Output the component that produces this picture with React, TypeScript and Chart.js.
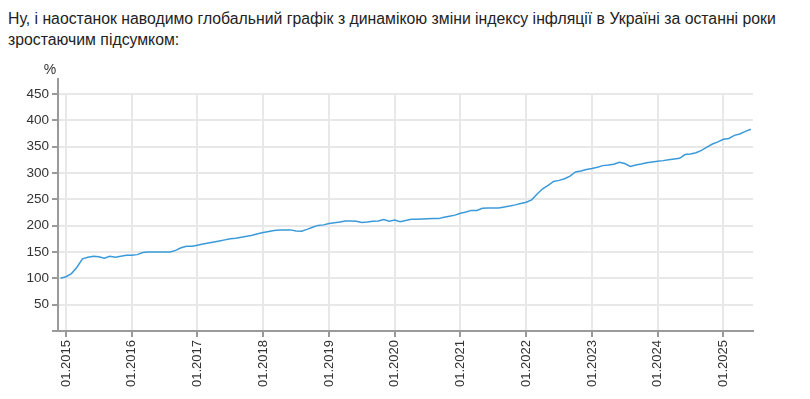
import React, { useEffect, useRef } from 'react';
import { Chart, registerables } from 'chart.js';

Chart.register(...registerables);

const TITLE =
  'Ну, і наостанок наводимо глобальний графік з динамікою зміни індексу інфляції в Україні за останні роки зростаючим підсумком:';

const UNIT_LABEL = '%';

// Monthly categories: 12.2014 .. 06.2025
const monthLabels: string[] = [];
for (let y = 2014; y <= 2025; y++) {
  for (let m = 1; m <= 12; m++) {
    if (y === 2014 && m < 12) continue;
    if (y === 2025 && m > 6) continue;
    monthLabels.push(`${String(m).padStart(2, '0')}.${y}`);
  }
}

// Cumulative inflation index (12.2014 = 100)
const inflationIndex = [
  100, // 12.2014
  103, 109, 121, 137, 140, 142, 141, 138, 142, 140, 142, 144, // 2015
  144, 145, 149, 150, 150, 150, 150, 150, 153, 158, 161, 161, // 2016
  163, 165, 167, 169, 171, 173, 175, 176, 178, 180, 182, 184.5, // 2017
  187, 189, 191, 192, 192, 192, 190, 189.5, 193, 197, 200.5, 201.5, // 2018
  204, 205.5, 207, 209, 209, 208.5, 206, 207, 208.5, 209, 211.5, 208.5, // 2019
  210.8, 207.7, 210, 212, 212, 212.5, 213, 213.4, 213.4, 216, 218, 220, // 2020
  223.5, 226, 229, 229, 233, 233.5, 233.5, 233.5, 235.5, 237.3, 239.5, 242, // 2021
  244.5, 249, 260, 270, 276.5, 284, 286, 289, 294, 302, 304, 306.5, // 2022
  308.5, 311, 314, 315, 316.5, 320.5, 318, 312.5, 315, 317, 319.5, 321, // 2023
  322.5, 323.5, 325, 326.5, 328, 335, 336, 338.5, 343, 349, 355, 359, // 2024
  364, 365.5, 371.5, 374, 379, 383, // 2025
];

const yearTickLabels = [
  '01.2015', '01.2016', '01.2017', '01.2018', '01.2019', '01.2020',
  '01.2021', '01.2022', '01.2023', '01.2024', '01.2025',
];

const yTickValues = [0, 50, 100, 150, 200, 250, 300, 350, 400, 450];

const FONT = 'Arial, "Liberation Sans", sans-serif';
const TEXT = '#333333';
const AXIS = '#9a9a9a';
const GRID = '#e8e8e8';
const LINE = '#3a9ad9';

const toMonth = (label: string) => {
  const [m, y] = label.split('.').map(Number);
  return (y - 2015) * 12 + (m - 1);
};

const yAxisCap = {
  id: 'yAxisCap',
  afterDraw(chart: any) {
    const { ctx, chartArea } = chart;
    ctx.save();
    ctx.strokeStyle = AXIS;
    ctx.lineWidth = 2;
    ctx.beginPath();
    ctx.moveTo(chartArea.left, chartArea.top);
    ctx.lineTo(chartArea.left, chartArea.top - 16);
    ctx.stroke();
    ctx.fillStyle = TEXT;
    ctx.font = `14px ${FONT}`;
    ctx.textAlign = 'center';
    ctx.textBaseline = 'middle';
    ctx.fillText(UNIT_LABEL, chartArea.left - 8, chartArea.top - 24);
    ctx.restore();
  },
};

function InflationChart() {
  const ref = useRef<HTMLCanvasElement | null>(null);
  useEffect(() => {
    if (!ref.current) return;
    const points = monthLabels.map((l, i) => ({ x: toMonth(l), y: inflationIndex[i] }));
    const chart = new Chart(ref.current, {
      type: 'line',
      data: {
        datasets: [
          {
            label: 'Індекс інфляції',
            data: points,
            borderColor: LINE,
            borderWidth: 1.5,
            pointRadius: 0,
            tension: 0,
            fill: false,
          },
        ],
      },
      plugins: [yAxisCap],
      options: {
        responsive: false,
        animation: false,
        layout: { padding: { top: 42, right: 49, left: 0, bottom: 0 } },
        plugins: { legend: { display: false }, tooltip: { enabled: false } },
        scales: {
          x: {
            type: 'linear',
            min: -1.46,
            max: 125.4,
            afterBuildTicks: (s: any) => {
              s.ticks = yearTickLabels.map((l) => ({ value: toMonth(l) }));
            },
            afterFit: (s: any) => {
              s.height = 59;
            },
            ticks: {
              autoSkip: false,
              maxRotation: 90,
              minRotation: 90,
              padding: 3,
              color: TEXT,
              font: { family: FONT, size: 13 },
              callback: (v: any) => {
                const f = yearTickLabels.find((l) => toMonth(l) === v);
                return f ?? '';
              },
            },
            grid: { color: GRID, lineWidth: 2, tickLength: 6, tickColor: AXIS },
            border: { color: AXIS, width: 2 },
          },
          y: {
            min: 0,
            max: 450,
            afterBuildTicks: (s: any) => {
              s.ticks = yTickValues.map((v) => ({ value: v }));
            },
            afterFit: (s: any) => {
              s.width = 50;
            },
            ticks: {
              padding: 3,
              color: TEXT,
              font: { family: FONT, size: 13.5 },
              callback: (v: any) => (v === 0 ? '' : String(v)),
            },
            grid: { color: GRID, lineWidth: 2, tickLength: 6, tickColor: AXIS },
            border: { color: AXIS, width: 2 },
          },
        },
      },
    });
    return () => chart.destroy();
  }, []);
  return (
    <div style={{ position: 'absolute', left: 8, top: 52, width: 794, height: 338 }}>
      <canvas ref={ref} width={794} height={338} style={{ display: 'block' }} />
    </div>
  );
}

export default function App() {
  return (
    <div>
      <div
        style={{
          fontFamily: FONT,
          fontSize: 15.8,
          lineHeight: '21px',
          color: '#222',
          margin: 0,
        }}
      >
        {TITLE}
      </div>
      <InflationChart />
    </div>
  );
}
